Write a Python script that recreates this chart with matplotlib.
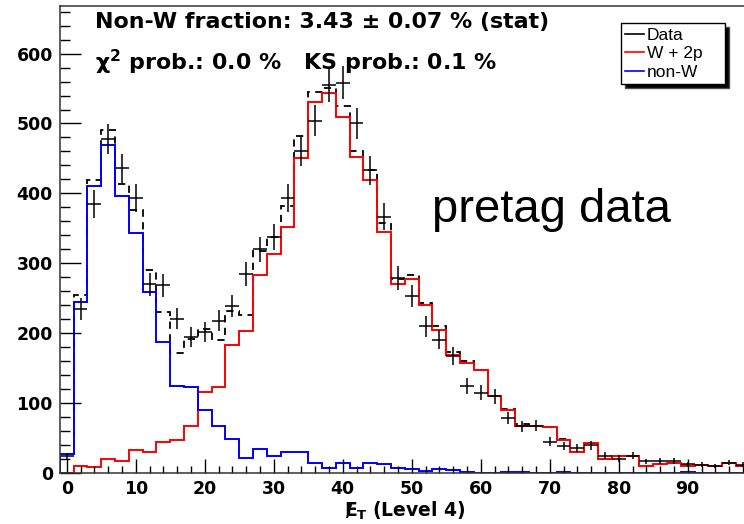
import numpy as np
import matplotlib
matplotlib.use("Agg")
import matplotlib.pyplot as plt
from matplotlib.ticker import MultipleLocator
from matplotlib.lines import Line2D

plt.rcParams['font.family'] = ['Liberation Sans', 'DejaVu Sans']
plt.rcParams['mathtext.fontset'] = 'custom'
plt.rcParams['mathtext.rm'] = 'DejaVu Sans'
plt.rcParams['mathtext.bf'] = 'DejaVu Sans:bold'
plt.rcParams['mathtext.it'] = 'DejaVu Sans:italic'

# bin centres of the missing-ET histogram (2 GeV bins)
centers = np.arange(0, 100, 2)

w2p = [0, 10, 9, 21, 18, 33, 31, 44, 47, 68,
       116, 123, 183, 204, 283, 314, 352, 451, 531, 543,
       510, 452, 419, 345, 270, 278, 240, 205, 169, 158,
       148, 110, 90, 68, 67, 66, 47, 30, 43, 20,
       24, 25, 10, 13, 14, 10, 12, 10, 14, 10]

nonw = [28, 245, 410, 469, 396, 344, 259, 187, 125, 124,
        90, 67, 49, 22, 35, 24, 30, 31, 14, 8,
        15, 8, 15, 13, 7, 6, 3, 6, 4, 2,
        0, 0, 2, 2, 0, 0, 2, 0, 0, 0,
        0, 0, 0, 0, 0, 2, 0, 0, 0, 0]

data = [24, 235, 385, 478, 436, 394, 270, 269, 221, 195,
        202, 218, 239, 285, 320, 338, 393, 460, 504, 555,
        558, 500, 433, 367, 279, 253, 210, 191, 168, 125,
        115, 110, 79, 67, 68, 45, 39, 36, 40, 25,
        21, 25, 17, 18, 18, 13, 12, 10, 15, 12]

w2p = np.array(w2p, dtype=float)
nonw = np.array(nonw, dtype=float)
data = np.array(data, dtype=float)
total = w2p + nonw
edges = np.append(centers - 1, centers[-1] + 1)

bold = dict(family='DejaVu Sans', fontweight='bold')

fig = plt.figure(figsize=(7.44, 5.24), dpi=100)
ax = fig.add_axes([0.0804, 0.0968, 0.9274, 0.8918])

ax.stairs(total, edges, color='black', linestyle=(0, (4, 3)), linewidth=1.3)
ax.stairs(w2p, edges, color='red', linewidth=1.4)
ax.stairs(nonw, edges, color='blue', linewidth=1.4)
ax.errorbar(centers, data, xerr=1, yerr=np.sqrt(data), fmt='none',
            ecolor='black', elinewidth=1.1, capsize=0)

ax.set_xlim(-1, 99)
ax.set_ylim(0, 668)
ax.xaxis.set_major_locator(MultipleLocator(10))
ax.xaxis.set_minor_locator(MultipleLocator(2))
ax.yaxis.set_major_locator(MultipleLocator(100))
ax.yaxis.set_minor_locator(MultipleLocator(20))
ax.tick_params(axis='y', which='major', direction='in', length=14.9, width=1, pad=5)
ax.tick_params(axis='y', which='minor', direction='in', length=7.4, width=1)
ax.tick_params(axis='x', which='major', direction='in', length=10, width=1, pad=5)
ax.tick_params(axis='x', which='minor', direction='in', length=5, width=1)
for lab in ax.get_xticklabels() + ax.get_yticklabels():
    lab.set_fontfamily('DejaVu Sans')
    lab.set_fontweight('bold')
    lab.set_fontsize(12.5)
for s in ax.spines.values():
    s.set_linewidth(1.1)
    s.set_color('#333333')

ax.set_xlabel(r'$\mathbf{/\!\!\!E}_{\mathbf{T}}$ (Level 4)', fontsize=13.5,
              labelpad=1, **bold)

fig.text(95 / 744, 1 - 28.3 / 524, 'Non-W fraction: 3.43 \u00b1 0.07 % (stat)',
         fontsize=15.9, va='baseline', **bold)
fig.text(95 / 744, 1 - 70 / 524, '\u03c7$^{\\mathbf{2}}$ prob.: 0.0 %   KS prob.: 0.1 %',
         fontsize=15.9, va='baseline', **bold)
fig.text(432 / 744, 1 - 222 / 524, 'pretag data', fontsize=34, va='baseline')

handles = [Line2D([], [], color='black', lw=1.2),
           Line2D([], [], color='red', lw=1.2),
           Line2D([], [], color='blue', lw=1.2)]
leg = fig.legend(handles, ['Data', 'W + 2p', 'non-W'], loc='upper left',
                 bbox_to_anchor=(621 / 744, 1 - 93.3 / 524, 104 / 744, 70 / 524),
                 mode='expand', borderaxespad=0, fontsize=12.5, handlelength=1.1,
                 handletextpad=0.15, labelspacing=0.2, borderpad=0.25,
                 handleheight=0.6,
                 fancybox=False, framealpha=1, edgecolor='black',
                 shadow={'ox': 3, 'oy': -3, 'facecolor': 'black', 'alpha': 1})
leg.get_frame().set_linewidth(1.0)

fig.savefig('out.png', dpi=100)
